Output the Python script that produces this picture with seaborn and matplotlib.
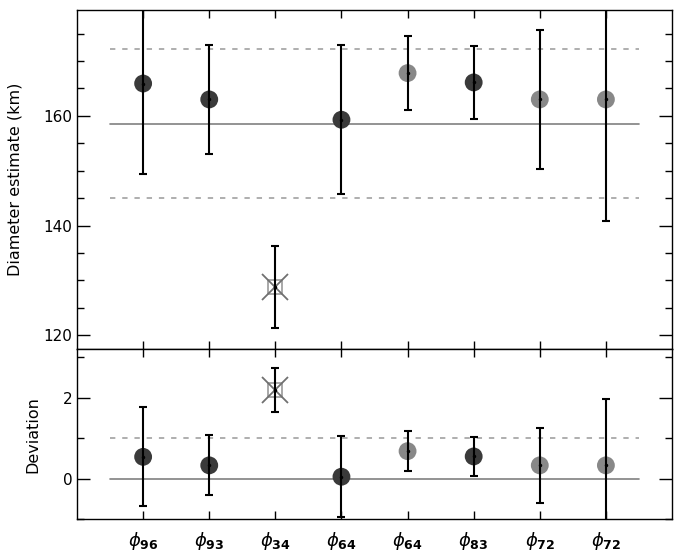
import matplotlib
matplotlib.use("Agg")
import matplotlib.pyplot as plt
import numpy as np
import pandas as pd
import seaborn as sns

# values
subs = ['96', '93', '34', '64', '64', '83', '72', '72']
diam = [165.9, 163.0, 128.8, 159.3, 167.8, 166.1, 163.0, 163.0]
diam_err = [16.5, 10.0, 7.5, 13.6, 6.7, 6.6, 12.6, 22.1]
dev = [0.54, 0.33, 2.19, 0.05, 0.68, 0.55, 0.33, 0.33]
dev_err = [1.22, 0.74, 0.54, 1.0, 0.5, 0.49, 0.92, 1.63]
group = ['dark', 'dark', 'outlier', 'dark', 'grey', 'dark', 'grey', 'grey']
mean_d, sig_d = 158.6, 13.6
mean_dev, sig_dev = 0.0, 1.0

pos = np.arange(1, len(subs) + 1)
df = pd.DataFrame({'x': pos, 'diam': diam, 'diam_err': diam_err,
                   'dev': dev, 'dev_err': dev_err, 'group': group})

sns.set_style("ticks")
plt.rcParams['font.family'] = ['DejaVu Sans']
plt.rcParams['axes.labelcolor'] = 'black'

fig = plt.figure(figsize=(6.81, 5.53), dpi=100)
ax1 = fig.add_axes([0.1131, 0.3683, 0.8737, 0.6136])
ax2 = fig.add_axes([0.1131, 0.0609, 0.8737, 0.3074], sharex=ax1)

pal = {'dark': '#3a3a3a', 'grey': '#888888'}
circ = df[df.group != 'outlier']
odd = df[df.group == 'outlier']

for ax, col, ecol, m, s, lims in [(ax1, 'diam', 'diam_err', mean_d, sig_d, (117.45, 179.3)),
                                  (ax2, 'dev', 'dev_err', mean_dev, sig_dev, (-0.98, 3.19))]:
    ax.plot([0.5, 8.5], [m, m], color='#808080', lw=1.2, zorder=1)
    ax.plot([0.5, 8.5], [m + s, m + s], color='#999999', lw=1.1, ls=(0, (3.5, 4.5)), zorder=1)
    if ax is ax1:
        ax.plot([0.5, 8.5], [m - s, m - s], color='#999999', lw=1.1, ls=(0, (3.5, 4.5)), zorder=1)
    sns.scatterplot(data=circ, x='x', y=col, hue='group', palette=pal, s=165,
                    edgecolor='none', legend=False, ax=ax, zorder=2)
    ax.plot(odd.x, odd[col], marker='s', ms=10.5, mfc='none', mec='#999999', mew=1.2, ls='none', zorder=2)
    ax.plot(odd.x, odd[col], marker='x', ms=19, mec='#707070', mew=1.3, ls='none', zorder=2)
    ax.errorbar(df.x, df[col], yerr=df[ecol], fmt='none', ecolor='black', elinewidth=1.5,
                capsize=3, capthick=1.5, zorder=3)
    ax.plot(df.x, df[col], 'o', ms=1.5, color='black', zorder=4)
    ax.set_ylim(*lims)
    ax.set_xlim(0, 9)
    ax.tick_params(axis='both', which='both', direction='in', top=True, right=True,
                   labelsize=11, colors='black')
    ax.tick_params(axis='y', which='major', length=9.5, width=1)
    ax.tick_params(axis='y', which='minor', length=5, width=1)
    ax.tick_params(axis='x', which='major', length=6, width=1)
    for sp in ax.spines.values():
        sp.set_color('black')
        sp.set_linewidth(1.0)
    ax.set_xlabel('')

ax1.set_yticks([120, 140, 160])
ax1.set_yticks(np.arange(120, 180, 5), minor=True)
ax1.set_ylabel('Diameter estimate (km)', fontsize=11.5)
ax1.yaxis.set_label_coords(-0.092, 0.5)
ax1.tick_params(axis='x', labelbottom=False)

ax2.set_yticks([0, 2])
ax2.set_yticks([-1, 0, 1, 2, 3], minor=True)
ax2.set_ylabel('Deviation', fontsize=11.5)
ax2.yaxis.set_label_coords(-0.062, 0.5)
ax2.set_xticks(pos)
ax2.set_xticklabels([r'$\phi_{\mathbf{%s}}$' % s for s in subs], fontsize=13)
ax2.tick_params(axis='x', pad=8)
ax2.tick_params(axis='x', which='minor', bottom=False, top=False)

fig.savefig('out.png', dpi=100)
